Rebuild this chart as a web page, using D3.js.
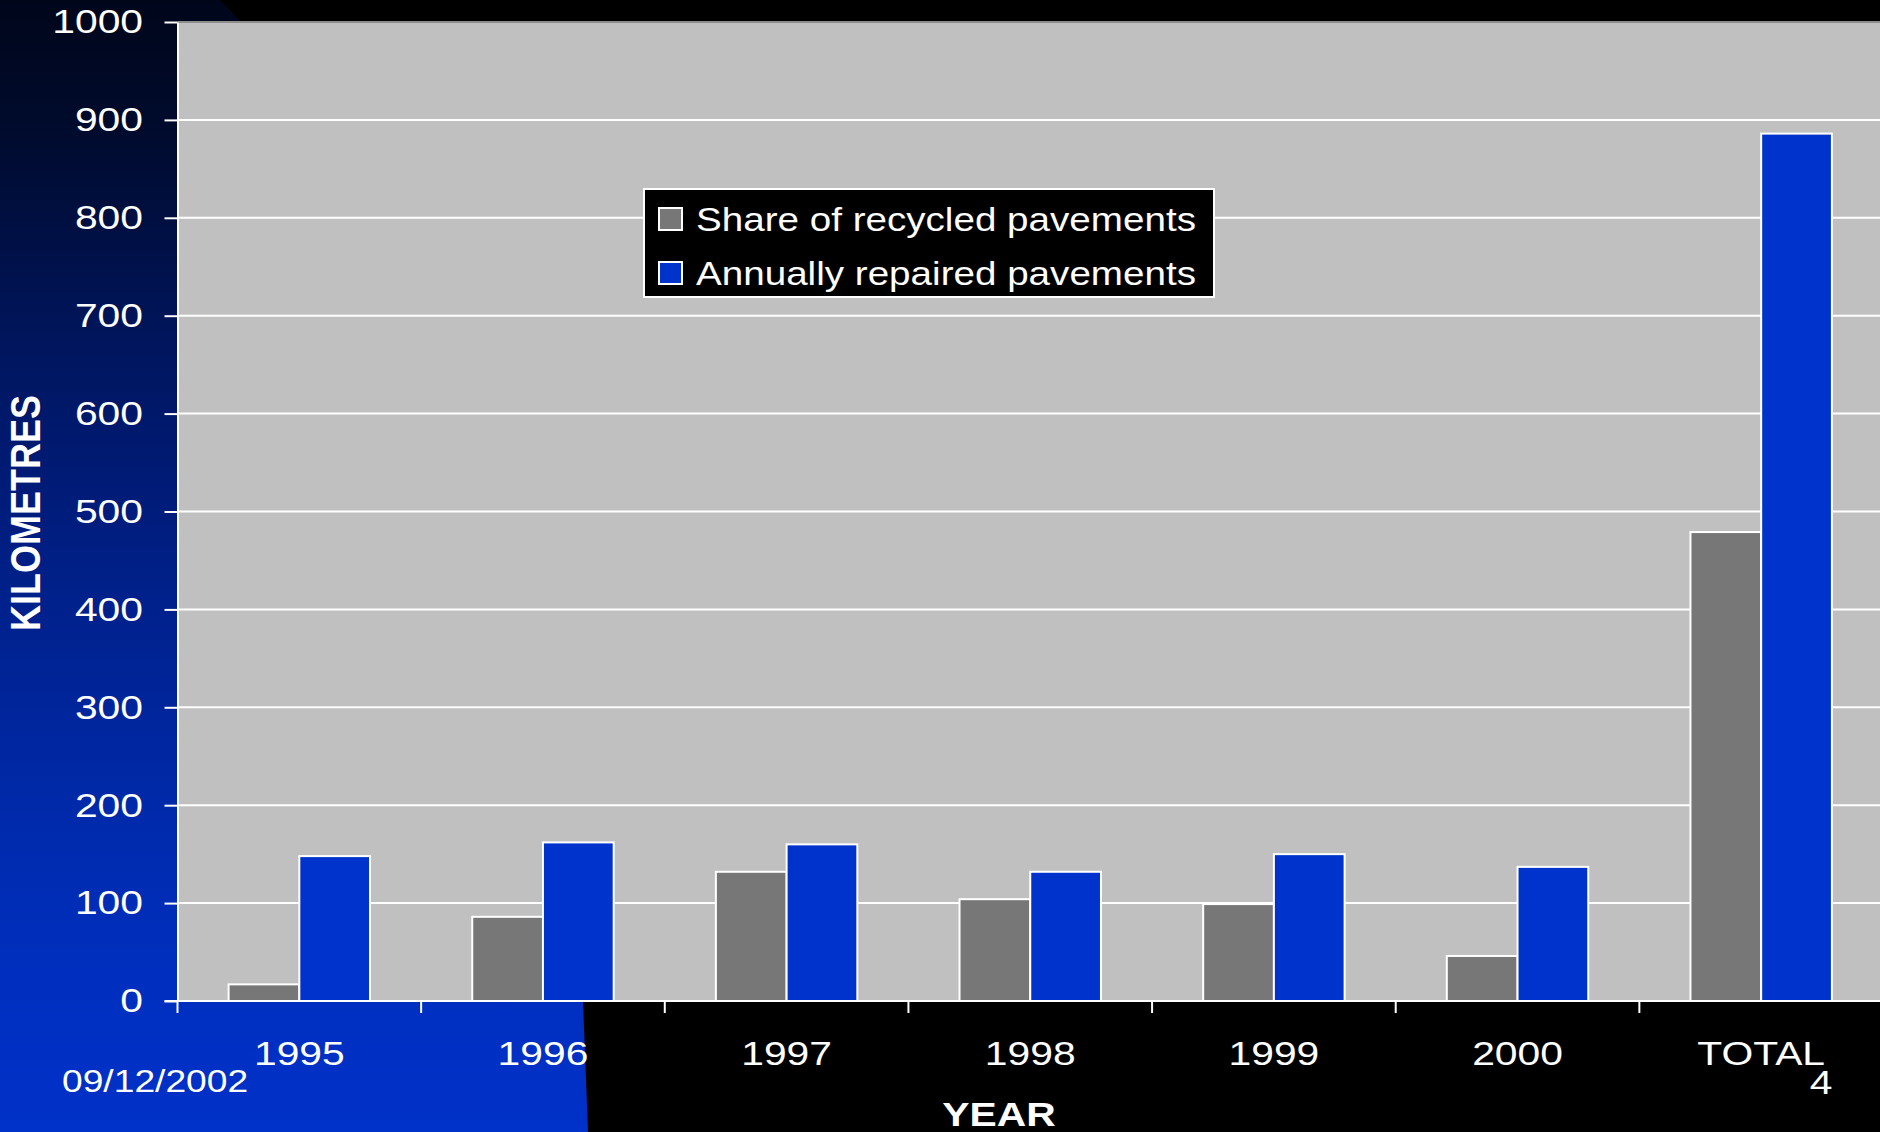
<!DOCTYPE html>
<html>
<head>
<meta charset="utf-8">
<script src="https://cdn.jsdelivr.net/npm/d3@7"></script>
<style>
  html, body { margin: 0; padding: 0; background: #000; overflow: hidden; }
  svg { display: block; }
  text { font-family: "Liberation Sans", Arial, sans-serif; fill: #fff; }
</style>
</head>
<body>
<svg id="chart" width="1880" height="1132"></svg>
<script>
// Road-repair statistics, kilometres per year
const years = ["1995", "1996", "1997", "1998", "1999", "2000", "TOTAL"];
const recycled = [17, 86, 132, 104, 99, 46, 479];
const repaired = [148, 162, 160, 132, 150, 137, 886];
const seriesNames = ["Share of recycled pavements", "Annually repaired pavements"];
const seriesColors = ["#777777", "#0033CC"];
const yTicks = [0, 100, 200, 300, 400, 500, 600, 700, 800, 900, 1000];

const W = 1880, H = 1132;
const SX = 1.2; // horizontal stretch of the slide lettering
const M = { left: 177.5, top: 22, right: 1883, bottom: 1001 };

const svg = d3.select("#chart");

// Slide background: blue gradient panel on the left, black elsewhere
const defs = svg.append("defs");
const grad = defs.append("linearGradient")
  .attr("id", "panel").attr("gradientUnits", "userSpaceOnUse")
  .attr("x1", 0).attr("y1", 0).attr("x2", 0).attr("y2", H);
[[0, "#00061a"], [0.12, "#000b2e"], [0.3, "#00155c"], [0.5, "#001f86"],
 [0.7, "#0029a8"], [0.85, "#002fbe"], [1, "#0031c8"]].forEach(([o, c]) =>
  grad.append("stop").attr("offset", o).attr("stop-color", c));

svg.append("rect").attr("width", W).attr("height", H).attr("fill", "#000");
svg.append("path")
  .attr("d", "M0,0 H220 C420,200 575,600 583,1001 L588,1132 H0 Z")
  .attr("fill", "url(#panel)");

// Scales
const x = d3.scaleBand().domain(years).range([M.left, M.right]).paddingInner(0).paddingOuter(0);
const xs = d3.scaleBand().domain(d3.range(seriesNames.length))
  .range([0, x.bandwidth()]).paddingInner(0).paddingOuter(0.7226);
const y = d3.scaleLinear().domain([0, 1000]).range([M.bottom, M.top]);

// Plot area
svg.append("rect")
  .attr("x", M.left).attr("y", M.top)
  .attr("width", M.right - M.left).attr("height", M.bottom - M.top)
  .attr("fill", "#C0C0C0");

// Gridlines
svg.append("g").selectAll("line")
  .data(yTicks.filter(v => v > 0))
  .join("line")
  .attr("x1", M.left).attr("x2", M.right)
  .attr("y1", d => y(d)).attr("y2", d => y(d))
  .attr("stroke", d => d === 1000 ? "#8c8c8c" : "#fff")
  .attr("stroke-width", 2);

// Bars
const rows = years.map((yr, i) => ({ yr, vals: [recycled[i], repaired[i]] }));
const groups = svg.append("g").selectAll("g")
  .data(rows).join("g")
  .attr("transform", d => `translate(${x(d.yr)},0)`);
groups.selectAll("rect")
  .data(d => d.vals.map((v, k) => ({ v, k })))
  .join("rect")
  .attr("x", d => xs(d.k))
  .attr("width", xs.bandwidth())
  .attr("y", d => y(d.v))
  .attr("height", d => y(0) - y(d.v))
  .attr("fill", d => seriesColors[d.k])
  .attr("stroke", "#fff")
  .attr("stroke-width", 2);

// Stretch a text node horizontally about x = 0
function stretch(sel) {
  sel.each(function () {
    const t = d3.select(this);
    const x0 = +t.attr("x") || 0;
    t.attr("x", x0 / SX).attr("transform", `scale(${SX},1)`);
  });
}

// Y axis
const yAxis = svg.append("g")
  .attr("transform", `translate(${M.left},0)`)
  .call(d3.axisLeft(y).tickValues(yTicks).tickFormat(d3.format("d"))
    .tickSize(13).tickSizeOuter(0).tickPadding(21.5));
yAxis.select(".domain").attr("stroke", "#fff").attr("stroke-width", 2);
yAxis.selectAll(".tick line").attr("stroke", "#fff").attr("stroke-width", 2);
yAxis.selectAll(".tick text")
  .attr("font-size", 34).attr("fill", "#fff")
  .style("font-family", "'Liberation Sans', Arial, sans-serif")
  .call(stretch);

// X axis: baseline, boundary ticks, category labels
svg.append("line")
  .attr("x1", M.left - 13).attr("x2", M.right)
  .attr("y1", M.bottom).attr("y2", M.bottom)
  .attr("stroke", "#fff").attr("stroke-width", 2);
const bounds = years.map(d => x(d)).concat([x.range()[1]]);
svg.append("g").selectAll("line")
  .data(bounds).join("line")
  .attr("x1", d => d).attr("x2", d => d)
  .attr("y1", M.bottom).attr("y2", M.bottom + 12)
  .attr("stroke", "#fff").attr("stroke-width", 2);

const xAxis = svg.append("g")
  .attr("transform", `translate(0,${M.bottom})`)
  .call(d3.axisBottom(x).tickSize(0).tickPadding(40));
xAxis.select(".domain").remove();
xAxis.selectAll(".tick text")
  .attr("font-size", 34).attr("fill", "#fff")
  .style("font-family", "'Liberation Sans', Arial, sans-serif")
  .call(stretch);

// Axis titles
svg.append("g").attr("transform", "translate(999,1126)")
  .append("text").attr("text-anchor", "middle")
  .attr("font-size", 34).attr("font-weight", "bold")
  .attr("transform", `scale(${SX},1)`)
  .text("YEAR");

svg.append("g").attr("transform", "translate(40,513)")
  .append("text").attr("text-anchor", "middle")
  .attr("font-size", 36).attr("font-weight", "bold")
  .attr("transform", `scale(${SX},1) rotate(-90)`)
  .text("KILOMETRES");

// Slide footer
svg.append("g").attr("transform", "translate(62,1092)")
  .append("text").attr("font-size", 31)
  .attr("transform", `scale(${SX},1)`)
  .text("09/12/2002");
svg.append("g").attr("transform", "translate(1821,1094)")
  .append("text").attr("font-size", 34).attr("text-anchor", "middle")
  .attr("transform", `scale(${SX},1)`)
  .text("4");

// Legend
const lg = svg.append("g").attr("transform", "translate(644,189)");
lg.append("rect").attr("width", 570).attr("height", 108)
  .attr("fill", "#000").attr("stroke", "#fff").attr("stroke-width", 2);
const items = lg.selectAll("g.item").data(seriesNames).join("g")
  .attr("class", "item")
  .attr("transform", (d, i) => `translate(0,${i * 54})`);
items.append("rect")
  .attr("x", 15).attr("y", 19).attr("width", 23).attr("height", 22)
  .attr("fill", (d, i) => seriesColors[i])
  .attr("stroke", "#fff").attr("stroke-width", 2);
items.append("g").attr("transform", "translate(52,42)")
  .append("text").attr("font-size", 33)
  .attr("transform", "scale(1.17,1)")
  .text(d => d);
</script>
</body>
</html>
